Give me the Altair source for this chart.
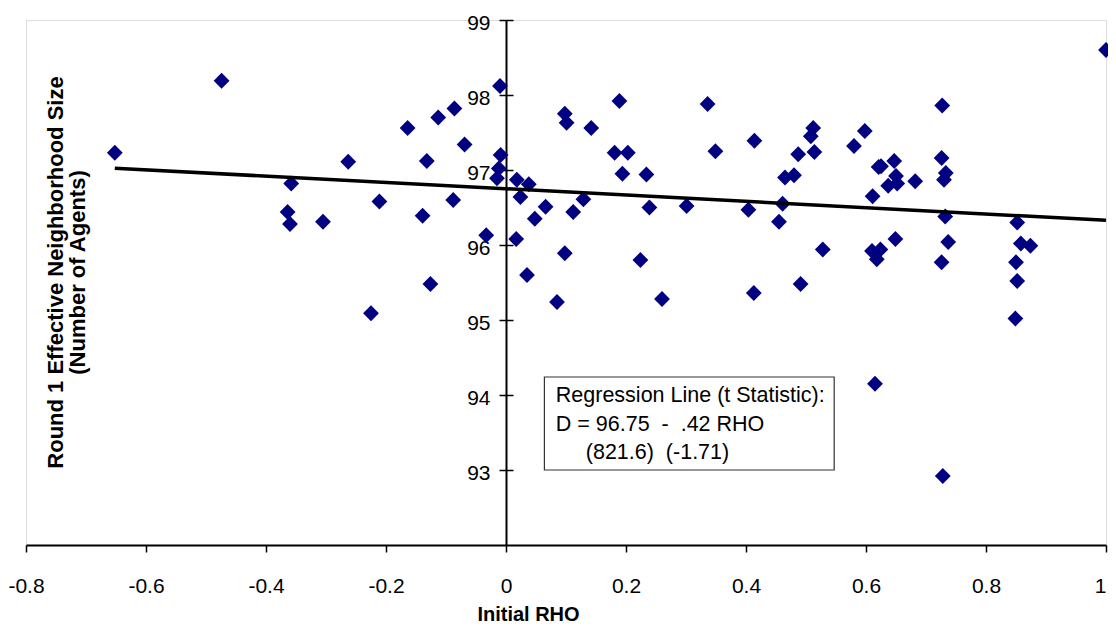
import altair as alt
import pandas as pd

# Scatter data: Initial RHO (x) vs Round 1 effective neighborhood size (y)
rho = [-0.652, -0.474, -0.358, -0.364, -0.360, -0.305, -0.263, -0.211, -0.225,
       -0.164, -0.113, -0.086, -0.132, -0.069, -0.139, -0.088, -0.126, -0.033,
       -0.010, -0.009, -0.012, -0.015, 0.017, 0.018, 0.038, 0.024, 0.035, 0.048,
       0.066, 0.085, 0.098, 0.098, 0.101, 0.112, 0.129, 0.142, 0.189, 0.181,
       0.203, 0.194, 0.234, 0.239, 0.224, 0.260, 0.301, 0.336, 0.349,
       0.404, 0.414, 0.413, 0.461, 0.455, 0.465, 0.480, 0.487, 0.508, 0.512,
       0.514, 0.528, 0.491, 0.580, 0.598, 0.611, 0.621, 0.625, 0.647, 0.650,
       0.637, 0.652, 0.682, 0.610, 0.624, 0.618, 0.649, 0.727, 0.726, 0.733,
       0.730, 0.732, 0.737, 0.726, 0.852, 0.858, 0.874, 0.850, 0.852, 0.849,
       1.000, 0.615, 0.728]
size = [97.23, 98.19, 96.82, 96.44, 96.28, 96.31, 97.11, 96.58, 95.09,
        97.56, 97.70, 97.82, 97.12, 97.34, 96.39, 96.60, 95.48, 96.13,
        98.12, 97.20, 97.02, 96.89, 96.08, 96.87, 96.81, 96.64, 95.60, 96.35,
        96.51, 95.24, 95.89, 97.75, 97.63, 96.44, 96.61, 97.56, 97.92, 97.23,
        97.23, 96.95, 96.94, 96.50, 95.80, 95.28, 96.52, 97.88, 97.25,
        96.47, 97.39, 95.36, 96.55, 96.31, 96.90, 96.93, 97.21, 97.45, 97.56,
        97.24, 95.94, 95.48, 97.32, 97.52, 96.65, 97.04, 97.05, 97.12, 96.92,
        96.79, 96.82, 96.85, 95.92, 95.94, 95.81, 96.08, 97.86, 97.16, 96.96,
        96.87, 96.38, 96.04, 95.77, 96.30, 96.02, 95.99, 95.77, 95.52, 95.02,
        98.60, 94.15, 92.92]

# Regression line as stated on the chart: D = 96.75 - .42 RHO
intercept = 96.75
slope = -0.42
line_x = [min(rho), max(rho)]

x_ticks = [-0.8, -0.6, -0.4, -0.2, 0, 0.2, 0.4, 0.6, 0.8, 1]
y_ticks = [93, 94, 95, 96, 97, 98, 99]

# Annotation box (data coordinates) and its text lines
box = {"x": [0.064], "x2": [0.547], "y": [94.24], "y2": [93.0]}
note_lines = ["Regression Line (t Statistic):",
              "D = 96.75\u00a0\u00a0-\u00a0\u00a0.42 RHO",
              "(821.6)\u00a0\u00a0(-1.71)"]
note_y = [93.99, 93.60, 93.23]
note_x = [0.083, 0.083, 0.133]

W, H = 1080, 525
FONT = "Liberation Sans"

pts = pd.DataFrame({"rho": rho, "d": size})
reg = pd.DataFrame({"rho": line_x, "d": [intercept + slope * v for v in line_x]})
box_df = pd.DataFrame(box)
note_df = pd.DataFrame({"x": note_x, "y": note_y, "t": note_lines})

xscale = alt.Scale(domain=[-0.8, 1], nice=False, zero=False)
yscale = alt.Scale(domain=[92, 99], nice=False, zero=False)

zero_off = -(0 - (-0.8)) / 1.8 * W

x_axis = alt.Axis(values=x_ticks, labelExpr="'' + datum.value", grid=False,
                  tickSize=7, tickWidth=1.5, tickColor="black",
                  domainColor="black", domainWidth=2,
                  labelFontSize=21, labelFont=FONT, labelColor="black",
                  labelPadding=23, labelFlush=False,
                  labelOffset={"condition": {"test": "datum.value >= 1", "value": -6},
                               "value": 0},
                  title="Initial RHO", titleFont=FONT, titleFontSize=20,
                  titleFontWeight="bold", titleColor="black",
                  titleX=502, titleY=75, titleAlign="center",
                  titleBaseline="alphabetic")

y_axis_left = alt.Axis(values=y_ticks, grid=False, orient="left",
                       offset=zero_off,
                       tickSize=7, tickWidth=1.5, tickColor="black",
                       domainColor="black", domainWidth=2,
                       labelFontSize=21, labelFont=FONT, labelColor="black",
                       labelPadding=9, labelOffset=3,
                       title=["Round 1 Effective Neighborhood Size",
                              "(Number of Agents)"],
                       titleFont=FONT, titleFontSize=22, titleFontWeight="bold",
                       titleColor="black", titleAngle=-90,
                       titleX=-461, titleY=252, titleAlign="center",
                       titleBaseline="top", titleLineHeight=22)

y_axis_right = alt.Axis(values=y_ticks, grid=False, orient="right",
                        offset=-(W + zero_off), domain=False, labels=False,
                        tickSize=7, tickWidth=1.5, tickColor="black", title=None)

points = alt.Chart(pts).mark_point(
    shape="diamond", filled=True, size=250, color="#000080", opacity=1
).encode(
    x=alt.X("rho:Q", scale=xscale, axis=x_axis),
    y=alt.Y("d:Q", scale=yscale, axis=y_axis_left),
)

line = alt.Chart(reg).mark_line(color="black", strokeWidth=3.5).encode(
    x=alt.X("rho:Q", scale=xscale, axis=x_axis),
    y=alt.Y("d:Q", scale=yscale, axis=y_axis_right),
)

rect = alt.Chart(box_df).mark_rect(
    fill="white", stroke="#333333", strokeWidth=1.2
).encode(
    x=alt.X("x:Q", scale=xscale, axis=x_axis),
    x2="x2:Q",
    y=alt.Y("y:Q", scale=yscale, axis=None),
    y2="y2:Q",
)

notes = alt.Chart(note_df).mark_text(
    align="left", baseline="middle", fontSize=21.5, font=FONT, color="black"
).encode(
    x=alt.X("x:Q", scale=xscale, axis=x_axis),
    y=alt.Y("y:Q", scale=yscale, axis=None),
    text="t:N",
)

chart = alt.layer(points, line, rect, notes).resolve_axis(
    y="independent"
).properties(
    width=W, height=H,
    autosize=alt.AutoSizeParams(type="none"),
    padding={"left": 18, "top": 12, "right": 2, "bottom": 78},
).configure_view(stroke=None).configure(background="white")

chart.save("out.html", embed_options={"renderer": "svg", "actions": False})
